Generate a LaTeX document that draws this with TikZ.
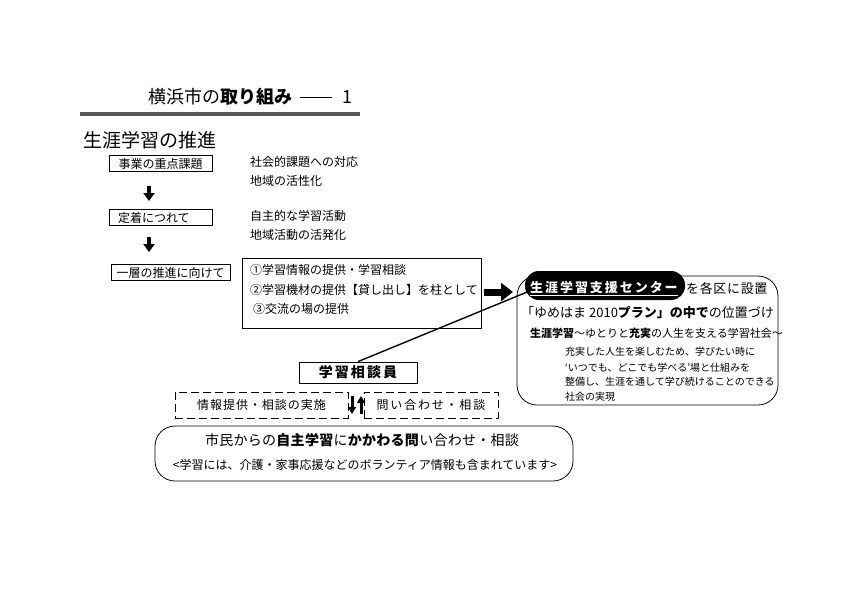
\documentclass[tikz,border=0pt]{standalone}
\usepackage{fontspec}
\setmainfont{Noto Sans CJK JP}
\usetikzlibrary{arrows.meta,calc}

\begin{document}
\begin{tikzpicture}[
    x=1pt,
    y=-1pt,
    line join=miter,
    every node/.style={inner sep=0pt, font=\fontsize{12}{14}\selectfont},
    waku/.style={draw, line width=0.8pt, minimum height=16pt},
    tenwaku/.style={draw, line width=0.8pt, dash pattern=on 8pt off 4pt, minimum height=26pt},
    maru/.style={draw, line width=0.8pt, rounded corners=18pt},
    bun/.style={anchor=west},
    yajirushi/.style={line width=4pt, -{Triangle[width=11pt,length=8pt]}},
    futoya/.style={line width=7pt, -{Triangle[width=18pt,length=12pt]}},
    hosoya/.style={line width=3pt, -{Triangle[width=8pt,length=7pt]}},
    sen/.style={line width=1.4pt}
]

\useasboundingbox (0,0) rectangle (842,595);

\node[bun, font=\fontsize{18}{20}\selectfont] (title) at (148,97)
  {横浜市の\textbf{取り組み}\hspace{8pt}\rule[6pt]{32pt}{1pt}\hspace{10pt}1};
\draw[line width=4pt, black!65] (80,114) -- (360,114);

\node[bun, font=\fontsize{19}{21}\selectfont] (suishin) at (83,140) {生涯学習の推進};

\node[waku, minimum width=103pt] (jigyo) at (160.5,163.5) {事業の重点課題};
\node[waku, minimum width=103pt, text width=85pt, align=left] (teichaku) at (160.5,217.5) {定着につれて};
\node[waku, minimum width=119pt] (isso) at (170.5,272.5) {一層の推進に向けて};

\coordinate (y1a) at (149,186);
\coordinate (y1b) at (149,201);
\coordinate (y2a) at (149,237);
\coordinate (y2b) at (149,252);
\draw[yajirushi] (y1a) -- (y1b);
\draw[yajirushi] (y2a) -- (y2b);

\node[bun] (shakai) at (250,162) {社会的課題への対応};
\node[bun] (chiiki) at (250,181) {地域の活性化};
\node[bun] (jishu) at (250,216) {自主的な学習活動};
\node[bun] (katsudo) at (250,235) {地域活動の活発化};

\node[draw, line width=0.8pt, minimum width=239pt, minimum height=70pt] (hashira) at (361.5,293) {};
\node[bun] (p1) at (250,270) {①学習情報の提供・学習相談};
\node[bun] (p2) at (250,290) {②学習機材の提供【貸し出し】を柱として};
\node[bun] (p3) at (253,309) {③交流の場の提供};

\coordinate (ya) at (484,292);
\coordinate (yb) at (513,292);
\draw[futoya] (ya) -- (yb);

\node[maru, rounded corners=20pt, minimum width=261pt, minimum height=129pt] (ichi) at (647.5,340.5) {};
\node[draw, line width=0.8pt, minimum width=118pt, minimum height=21pt] (soudanin) at (358,372.5)
  {\fontsize{14}{16}\selectfont\bfseries\addfontfeature{LetterSpace=15}学習相談員};

\node[fill=black, rounded corners=14pt, minimum width=160pt, minimum height=29pt] (center) at (605,285.5) {};
\draw[sen] (soudanin.north) -- ($(center.west)+(6,5)$);
\node[bun, text=white, font=\fontsize{13}{15}\selectfont\bfseries] (centertxt) at (530,289)
  {\addfontfeature{LetterSpace=15}\underline{生涯学習支援センター}};
\node[bun, font=\fontsize{13}{15}\selectfont] (secchi) at (686,289)
  {\addfontfeature{LetterSpace=5}を各区に設置};
\node[bun, font=\fontsize{13}{15}\selectfont] (plan) at (521,312)
  {「ゆめはま\ 2010\textbf{プラン」の中で}の位置づけ};
\node[bun, font=\fontsize{11}{13}\selectfont] (shakaizo) at (530,333)
  {\textbf{生涯学習}～ゆとりと\textbf{充実}の人生を支える学習社会～};
\node[bun, font=\fontsize{10}{12}\selectfont] (r1) at (565,352) {充実した人生を楽しむため、学びたい時に};
\node[bun, font=\fontsize{10}{12}\selectfont] (r2) at (565,368) {‘いつでも、どこでも学べる’場と仕組みを};
\node[bun, font=\fontsize{10}{12}\selectfont] (r3) at (565,382) {整備し、生涯を通して学び続けることのできる};
\node[bun, font=\fontsize{10}{12}\selectfont] (r4) at (565,397) {社会の実現};

\node[tenwaku, minimum width=173pt] (jisshi) at (261.5,405)
  {\addfontfeature{LetterSpace=8}情報提供・相談の実施};
\node[tenwaku, minimum width=134pt] (toiawase) at (431,405)
  {\addfontfeature{LetterSpace=15}問い合わせ・相談};
\coordinate (sa) at (352,396);
\coordinate (sb) at (352,414);
\coordinate (ua) at (361,414);
\coordinate (ub) at (361,396);
\draw[hosoya] (sa) -- (sb);
\draw[hosoya] (ua) -- (ub);

\node[maru, rounded corners=20pt, minimum width=418pt, minimum height=55pt] (shimin) at (364,453.5) {};
\node[font=\fontsize{14}{16}\selectfont] (shimintxt) at (362,440)
  {\addfontfeature{LetterSpace=2}市民からの\textbf{自主学習}に\textbf{かかわる問}い合わせ・相談};
\node (volunteer) at (365,465) {<学習には、介護・家事応援などのボランティア情報も含まれています>};

\end{tikzpicture}
\end{document}
